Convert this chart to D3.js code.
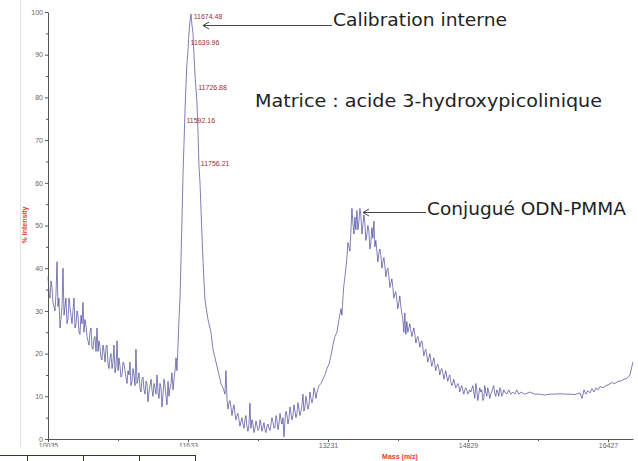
<!DOCTYPE html>
<html>
<head>
<meta charset="utf-8">
<script src="https://cdn.jsdelivr.net/npm/d3@7"></script>
<style>
  body { margin: 0; background: #fff; }
  svg { display: block; }
</style>
</head>
<body>
<div id="chart"></div>
<script>
// Spectrum (mass m/z, % intensity)
const mass = [
  10035, 10058, 10081, 10103, 10126, 10138, 10149, 10172, 10195, 10206, 10218, 10240, 10263, 10286, 10309, 10332,
  10355, 10377, 10400, 10423, 10434, 10446, 10469, 10491, 10514, 10537, 10560, 10583, 10594, 10606, 10628, 10651,
  10674, 10697, 10720, 10743, 10766, 10788, 10811, 10823, 10834, 10857, 10880, 10903, 10925, 10948, 10971, 10994,
  11017, 11039, 11051, 11062, 11085, 11108, 11131, 11154, 11176, 11199, 11222, 11245, 11268, 11279, 11291, 11313,
  11336, 11359, 11382, 11393, 11405, 11428, 11450, 11473, 11496, 11507, 11519, 11530, 11542, 11553, 11565, 11576,
  11587, 11599, 11610, 11621, 11633, 11644, 11656, 11667, 11678, 11690, 11701, 11713, 11724, 11735, 11747, 11758,
  11770, 11781, 11792, 11804, 11815, 11827, 11861, 11895, 11918, 11941, 11964, 11987, 12009, 12032, 12055, 12066,
  12078, 12101, 12123, 12146, 12169, 12192, 12215, 12237, 12260, 12283, 12306, 12329, 12340, 12351, 12374, 12397,
  12420, 12443, 12466, 12489, 12511, 12534, 12557, 12580, 12603, 12626, 12648, 12671, 12694, 12717, 12728, 12740,
  12763, 12785, 12808, 12831, 12854, 12877, 12899, 12922, 12945, 12968, 12991, 13014, 13036, 13059, 13082, 13105,
  13128, 13151, 13173, 13196, 13219, 13242, 13265, 13287, 13310, 13333, 13356, 13379, 13401, 13424, 13447, 13470,
  13492, 13504, 13515, 13538, 13549, 13561, 13584, 13606, 13629, 13652, 13675, 13698, 13720, 13743, 13755, 13766,
  13789, 13812, 13834, 13857, 13880, 13903, 13926, 13948, 13971, 13994, 14017, 14040, 14062, 14085, 14108, 14119,
  14131, 14154, 14176, 14199, 14222, 14245, 14268, 14290, 14313, 14336, 14359, 14382, 14404, 14427, 14450, 14473,
  14496, 14518, 14541, 14564, 14587, 14610, 14632, 14655, 14678, 14701, 14724, 14747, 14769, 14792, 14815, 14838,
  14861, 14884, 14906, 14929, 14952, 14975, 14998, 15020, 15043, 15066, 15089, 15112, 15135, 15157, 15180, 15203,
  15226, 15249, 15271, 15294, 15317, 15340, 15363, 15386, 15408, 15431, 15477, 15534, 15591, 15648, 15705, 15765,
  15822, 15879, 15936, 15993, 16050, 16107, 16130, 16153, 16175, 16198, 16221, 16244, 16267, 16290, 16313, 16335,
  16370, 16404, 16438, 16472, 16506, 16541, 16575, 16609, 16643, 16677, 16700, 16712
];
const intensity = [
  38, 33, 35.5, 31, 34, 41.5, 31, 26, 31, 40, 29, 33, 28, 31, 27, 33,
  27, 29, 24.5, 27, 32, 25, 26.5, 23, 25, 21.5, 23.5, 20.5, 26, 20.5, 21.5, 18.5,
  20.5, 21.5, 17.5, 19, 16.5, 22, 17, 23, 16, 17, 15, 17.5, 14.5, 16, 18, 13.5,
  15, 21, 13, 14, 12, 14, 11.5, 13.5, 8.7, 12.5, 11.5, 13, 10.5, 15, 11, 13,
  7.5, 14, 10, 8, 13.5, 12, 15.5, 14, 19, 16, 22, 28, 33, 42, 52, 62,
  69, 77, 83, 88, 91, 95, 98, 99.5, 97, 95, 90, 85, 82, 79, 72, 64,
  60, 54, 48, 42, 37, 32.5, 28, 25, 21, 19, 17, 15, 13, 12, 10.5, 16,
  9.5, 8.5, 7.5, 7, 6, 5.5, 4.5, 4, 3.5, 4.5, 2.8, 3.5, 8.4, 2.5, 3.5, 2.5,
  3.2, 2.3, 3.5, 2.8, 2.2, 3, 2.5, 3.5, 4, 2.8, 4.5, 3.5, 4.5, 5, 0.5, 4.5,
  5.5, 4.8, 6, 5.5, 6.5, 6, 7, 6.5, 10.5, 7.5, 8.5, 8, 9.5, 9.5, 11, 11,
  12.5, 13, 14, 15, 16.5, 17.5, 19.5, 22, 24, 25, 28, 30.5, 33, 38, 42.5, 45,
  48.5, 54, 50.5, 52, 49, 53.5, 51, 52.5, 50, 50.5, 48, 48.5, 46, 47, 51, 45,
  44, 43.5, 43, 41.5, 40.5, 39.5, 38, 36.5, 35.5, 34, 32.5, 32, 31, 28, 29.5, 24.5,
  27.5, 26, 25.5, 25, 24.5, 23.5, 23, 22.5, 21.5, 20.5, 19.5, 19, 18.5, 18, 17.5, 17,
  16.5, 16, 15.5, 15, 14.5, 14.5, 13.5, 13, 13, 12.5, 12.5, 12, 11.5, 11.5, 11.5, 11,
  11, 12.5, 9.5, 11.5, 10.5, 11, 9, 12.5, 10, 11, 10.5, 12, 10.5, 11.5, 10, 11.5,
  10.5, 11, 10.5, 11.5, 10.5, 11, 10.5, 11.5, 10.5, 11, 10.5, 11, 10.5, 10.5, 10.3, 10.5,
  10.5, 10.6, 10.5, 10.5, 10.4, 10.8, 9.5, 11.5, 10.5, 11.3, 10.8, 11.8, 11, 12, 11.5, 12.3,
  12, 12.5, 12.8, 13.2, 13, 13.5, 13.6, 14, 14.2, 15, 17, 18
];

// other edge of the noise band (read where the trace is thick)
const bandMass = [
  10047, 10069, 10092, 10115, 10160, 10183, 10229, 10252, 10275, 10297, 10320, 10343, 10366, 10389, 10412, 10457,
  10480, 10503, 10526, 10548, 10571, 10617, 10640, 10663, 10686, 10708, 10731, 10754, 10777, 10800, 10845, 10868,
  10891, 10914, 10937, 10960, 10982, 11005, 11028, 11074, 11096, 11119, 11142, 11165, 11188, 11211, 11233, 11256,
  11302, 11325, 11348, 11370, 11416, 11439, 11462, 11485,
  12089, 12112, 12135, 12158, 12180, 12203, 12226, 12249, 12272, 12294, 12317, 12363, 12386, 12409, 12432, 12455,
  12477, 12500, 12523, 12546, 12569, 12591, 12614, 12637, 12660, 12683, 12705, 12751, 12774, 12797, 12820, 12842,
  12865, 12888, 12911, 12934, 12956, 12979, 13002, 13025, 13048, 13071, 13094,
  13390, 13412, 13435, 13458, 13481, 13527, 13572, 13595, 13618, 13641, 13663, 13686, 13709, 13732, 13777, 13800,
  13823, 13846, 13869, 13891, 13914, 13937, 13960, 13982, 14005, 14028, 14051, 14074, 14097, 14142, 14165, 14188,
  14211, 14234, 14256, 14279, 14302, 14325, 14347, 14370, 14393, 14416, 14439, 14461, 14484, 14507, 14530, 14553,
  14575, 14598, 14621, 14644, 14666, 14689, 14712, 14735, 14758, 14781, 14804, 14826, 14849,
  14895, 14918, 14940, 14963, 14986, 15009, 15032, 15054, 15077, 15100, 15123, 15146, 15169, 15192, 15214, 15237
];
const bandInt = [
  34, 37, 32, 30, 33, 28, 31, 27, 33, 29, 30, 26, 30, 25, 29, 28,
  24, 22, 26, 21, 24, 23, 19, 22, 18, 22, 16.5, 20, 18, 15.5, 19, 14.5,
  18, 16, 13, 15, 12.5, 16.5, 12.5, 15.5, 11, 14.5, 10.5, 13, 11, 14, 10, 12,
  9.5, 12, 10.5, 12.5, 10, 13, 11.5, 16,
  7, 9, 5.5, 8, 4.5, 6, 3, 5, 2.5, 5.5, 1.8, 4.5, 1.5, 4.2, 2, 4.5,
  1.8, 3.8, 1.5, 3.5, 2, 5, 2.5, 5.5, 2.2, 6, 3.5, 6.5, 3.5, 7.5, 4.5, 8,
  5, 8.5, 5.5, 8, 6.5, 10, 7, 11, 8.5, 12, 9.5,
  29, 36, 40, 46, 44, 48, 49, 54, 48, 52.5, 46.5, 50, 44.5, 49.5, 46.5, 41.5,
  44.5, 40, 42.5, 38, 40, 35.5, 37.5, 33, 34.5, 30.5, 33.5, 29.5, 25, 25, 27, 24,
  26, 22.5, 24, 21.5, 23, 19.5, 21, 18, 20, 17, 19, 16, 17.5, 15, 16.5, 14,
  16, 13.5, 15, 12.5, 14, 12, 13, 11, 12.5, 10.5, 12, 10.5, 11.5,
  11, 13, 9, 12, 11.5, 9.5, 11, 12, 9.5, 11, 12.5, 10, 11, 12, 10, 11.5
];

// labelled peaks of the calibrant
const peakLabels = ["11674.48", "11639.96", "11726.88", "11592.16", "11756.21"];
const peakMass = [11674.48, 11639.96, 11726.88, 11592.16, 11756.21];
const peakInt = [99, 93, 82.4, 74.7, 64.6];

const xTicks = [10035, 11633, 13231, 14829, 16427];
const xMinor = [10834, 12432, 14030, 15628];
const yTicks = [0, 10, 20, 30, 40, 50, 60, 70, 80, 90, 100];
const yMinor = [5, 15, 25, 35, 45, 55, 65, 75, 85, 95];

const W = 638, H = 461;
const svg = d3.select("#chart").append("svg")
  .attr("width", W).attr("height", H)
  .style("background", "#fff");

const x = d3.scaleLinear().domain([10035, 16712]).range([48, 633]);
const y = d3.scaleLinear().domain([0, 100]).range([439, 12]);

// faint frame line on the left
svg.append("line")
  .attr("x1", 20.5).attr("x2", 20.5).attr("y1", 0).attr("y2", 447)
  .attr("stroke", "#e2e2e2").attr("stroke-width", 1);

// spectrum: main trace plus band edge, merged by mass
const pts = mass.map((m, i) => [m, intensity[i]])
  .concat(bandMass.map((m, i) => [m, bandInt[i]]))
  .sort((a, b) => d3.ascending(a[0], b[0]));
svg.append("path")
  .datum(pts)
  .attr("fill", "none")
  .attr("stroke", "#35358f")
  .attr("stroke-opacity", 0.8)
  .attr("stroke-width", 0.8)
  .attr("stroke-linejoin", "round")
  .attr("d", d3.line().x(d => x(d[0])).y(d => y(d[1])));

// axes
function styleAxis(g) {
  g.selectAll("path.domain").attr("stroke", "#555");
  g.selectAll(".tick line").attr("stroke", "#555");
  g.selectAll(".tick text")
    .attr("fill", "#666")
    .style("font-family", "'Liberation Sans', Arial, sans-serif")
    .style("font-size", "7px");
}

svg.append("g")
  .attr("transform", "translate(48,0)")
  .call(d3.axisLeft(y).tickValues(yMinor).tickSize(2).tickFormat(""))
  .call(g => g.select(".domain").remove())
  .call(styleAxis);

svg.append("g")
  .attr("transform", "translate(48,0)")
  .call(d3.axisLeft(y).tickValues(yTicks).tickSize(3).tickSizeOuter(0).tickPadding(2))
  .call(styleAxis);

svg.append("g")
  .attr("transform", "translate(0,439)")
  .call(d3.axisBottom(x).tickValues(xMinor).tickSize(2).tickFormat(""))
  .call(g => g.select(".domain").remove())
  .call(styleAxis);

svg.append("g")
  .attr("transform", "translate(0,439)")
  .call(d3.axisBottom(x).tickValues(xTicks).tickSize(3).tickSizeOuter(0).tickPadding(1).tickFormat(d3.format("d")))
  .call(styleAxis);

// axis titles
svg.append("text")
  .attr("transform", "translate(27,225) rotate(-90)")
  .attr("text-anchor", "middle")
  .attr("fill", "#e8392f")
  .style("font-family", "'Liberation Sans', Arial, sans-serif")
  .style("font-size", "7px")
  .style("font-weight", "bold")
  .text("% Intensity");

svg.append("text")
  .attr("x", 400).attr("y", 459)
  .attr("text-anchor", "middle")
  .attr("fill", "#e8392f")
  .style("font-family", "'Liberation Sans', Arial, sans-serif")
  .style("font-size", "7px")
  .style("font-weight", "bold")
  .text("Mass (m/z)");

// peak labels
svg.selectAll("text.peak")
  .data(peakLabels)
  .enter().append("text")
  .attr("class", "peak")
  .attr("x", (d, i) => x(peakMass[i]) + 2)
  .attr("y", (d, i) => y(peakInt[i]) + 3)
  .attr("fill", "#9a2f2f")
  .style("font-family", "'Liberation Sans', Arial, sans-serif")
  .style("font-size", "7px")
  .text(d => d);

// white patch with the table fragment at the bottom left
svg.append("rect")
  .attr("x", 0).attr("y", 447).attr("width", 250).attr("height", 14)
  .attr("fill", "#fff");
const tableCols = [27, 83, 139, 195];
svg.append("line")
  .attr("x1", 0).attr("x2", 195.5).attr("y1", 455.5).attr("y2", 455.5)
  .attr("stroke", "#26306e").attr("stroke-width", 1);
svg.selectAll("line.col")
  .data(tableCols)
  .enter().append("line")
  .attr("class", "col")
  .attr("x1", d => d + 0.5).attr("x2", d => d + 0.5)
  .attr("y1", 455).attr("y2", 461)
  .attr("stroke", "#26306e").attr("stroke-width", 1);

// annotations
function arrow(x1, x2, yy) {
  svg.append("line")
    .attr("x1", x1).attr("x2", x2).attr("y1", yy).attr("y2", yy)
    .attr("stroke", "#444").attr("stroke-width", 1);
  svg.append("path")
    .attr("d", `M${x1 + 6},${yy - 3.5} L${x1},${yy} L${x1 + 6},${yy + 3.5}`)
    .attr("fill", "none").attr("stroke", "#444").attr("stroke-width", 1);
}
function note(tx, ty, txt, len) {
  svg.append("text")
    .attr("x", tx).attr("y", ty)
    .attr("fill", "#222")
    .attr("textLength", len)
    .attr("lengthAdjust", "spacingAndGlyphs")
    .style("font-family", "'DejaVu Sans', Verdana, sans-serif")
    .style("font-size", "17px")
    .text(txt);
}

arrow(203, 332, 25.5);
note(333, 26, "Calibration interne", 174);
note(255, 107, "Matrice : acide 3-hydroxypicolinique", 347);
arrow(363, 426, 212.5);
note(427, 215, "Conjugué ODN-PMMA", 199);
</script>
</body>
</html>
